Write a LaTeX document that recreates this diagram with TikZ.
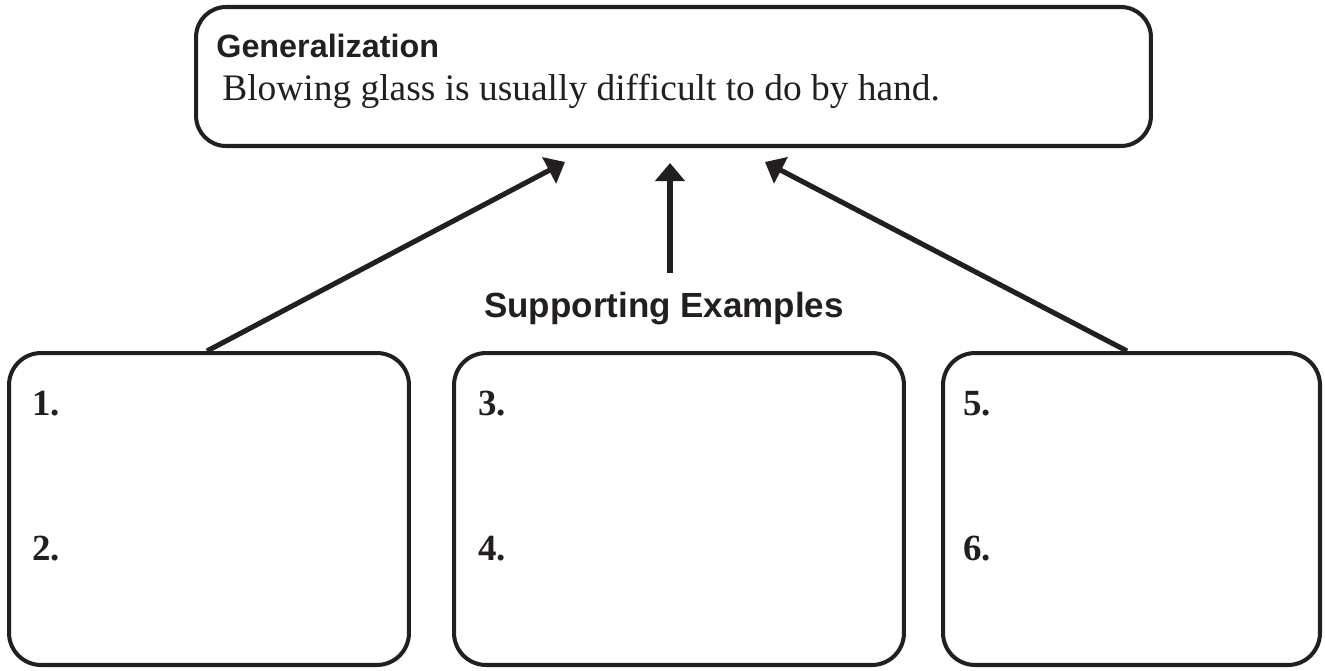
\documentclass[tikz,border=0pt]{standalone}
\usepackage{fontspec}
\setmainfont{Liberation Serif}
\newfontfamily\headfont{Liberation Sans}
\usepackage{tikz}
\usetikzlibrary{
  positioning,
  arrows.meta
}
\definecolor{ink}{HTML}{231F20}
\tikzset{
  exbox/.style={draw=ink,line width=2.3pt,rounded corners=0.64cm,inner sep=0pt},
  txt/.style={inner sep=0pt,anchor=base west,text=ink},
  numtxt/.style={txt,font=\fontsize{21}{23}\selectfont\bfseries},
  headtxt/.style={inner sep=0pt,text=ink,font=\headfont\bfseries},
  uparrow/.style={draw=ink,line width=2.9pt,-{Triangle[length=0.36cm,width=0.58cm]}}
}

\begin{document}
\begin{tikzpicture}[x=0.02cm,y=-0.02cm]
            \useasboundingbox (0,0) rectangle (1325,670);

            \node[exbox,rounded corners=0.6cm,minimum width=19.1cm,minimum height=2.78cm] (gen) at (673.5,76.5) {};
            \node[headtxt,anchor=base west,font=\headfont\bfseries\fontsize{18.4}{20}\selectfont] (genhead) at (216,57) {Generalization};
            \node[txt,font=\fontsize{21.3}{23}\selectfont] (gentext) at (222,100) {Blowing glass is usually difficult to do by hand.};

            \node[exbox,minimum width=8.0cm,minimum height=6.24cm] (box1) at (209,509) {};
            \node[exbox,minimum width=9.0cm,minimum height=6.24cm] (box2) at (679,509) {};
            \node[exbox,minimum width=7.54cm,minimum height=6.24cm] (box3) at (1131.5,509) {};

            \node[numtxt] (n1) at (32,415) {1.};
            \node[numtxt] (n2) at (32,560) {2.};
            \node[numtxt] (n3) at (478,415) {3.};
            \node[numtxt] (n4) at (478,560) {4.};
            \node[numtxt] (n5) at (963,415) {5.};
            \node[numtxt] (n6) at (963,560) {6.};

            \node[headtxt,anchor=base,font=\headfont\bfseries\fontsize{19.9}{22}\selectfont] (sup) at (664,317) {Supporting Examples};

            \coordinate (h1) at (565,162);
            \coordinate (h2) at (670,163);
            \coordinate (h3) at (765,162);
            \coordinate (t2) at (670,273);

            \draw[uparrow] (box1.north -| 207,0) -- (h1);
            \draw[uparrow] (t2) -- (h2);
            \draw[uparrow] (box3.north -| 1127,0) -- (h3);
        \end{tikzpicture}
\end{document}
